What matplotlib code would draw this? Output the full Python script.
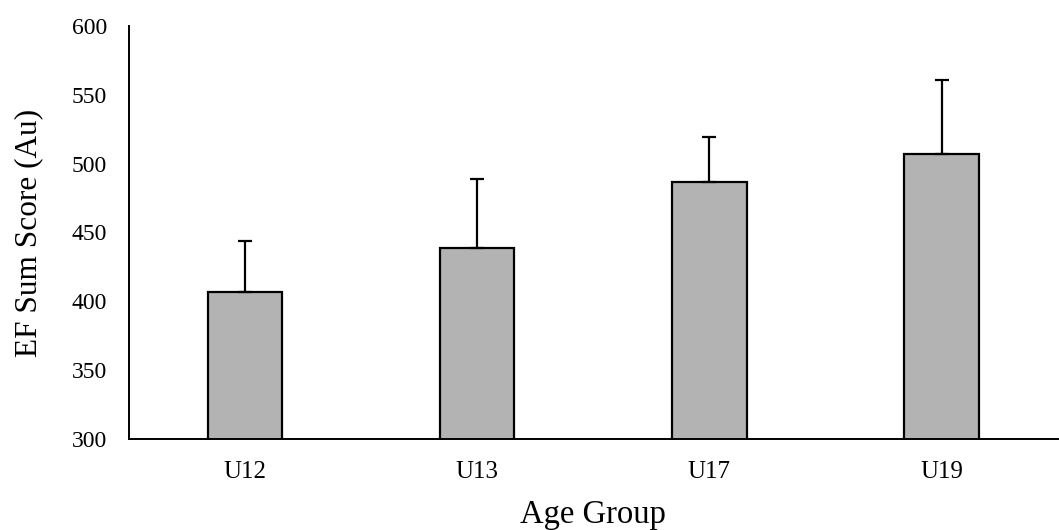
import matplotlib.pyplot as plt

groups = ["U12", "U13", "U17", "U19"]
scores = [407, 438.5, 487, 507]
errors = [37, 50, 32, 54]

plt.rcParams['font.family'] = ['Liberation Serif', 'DejaVu Serif']

fig = plt.figure(figsize=(10.59, 5.30), dpi=100)
ax = fig.add_axes([0.1218, 0.1717, 0.877, 0.7793])

x = range(len(groups))
ax.bar(x, scores, width=0.32, color="#b3b3b3", edgecolor="black", linewidth=1.6,
       yerr=[[0] * len(errors), errors],
       error_kw=dict(ecolor="black", elinewidth=1.6, capsize=5, capthick=1.6))

ax.set_xlim(-0.5, 3.5)
ax.set_ylim(300, 600)
ax.set_yticks(range(300, 601, 50))
ax.set_xticks(list(x))
ax.set_xticklabels(groups)
ax.tick_params(axis="y", length=0, labelsize=17, pad=16)
ax.tick_params(axis="x", length=0, labelsize=18, pad=16)

for s in ["top", "right"]:
    ax.spines[s].set_visible(False)
for s in ["left", "bottom"]:
    ax.spines[s].set_linewidth(1.4)

ax.set_ylabel("EF Sum Score (Au)", fontsize=22.5, labelpad=20)
ax.set_xlabel("Age Group", fontsize=23.5, labelpad=12)

fig.savefig("out.png", dpi=100)
